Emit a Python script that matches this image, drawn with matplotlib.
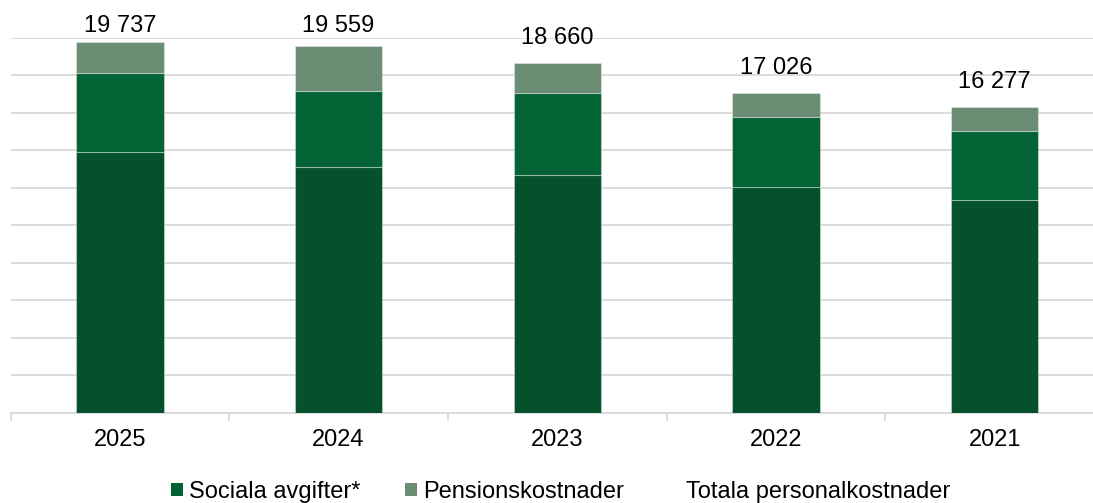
import matplotlib.pyplot as plt
from matplotlib.patches import Patch
from matplotlib.lines import Line2D
import numpy as np

plt.rcParams['font.family'] = ['Liberation Sans', 'DejaVu Sans']

# data
years = ['2025', '2024', '2023', '2022', '2021']
loner = [13877, 13093, 12651, 12027, 11316]
sociala = [4214, 4054, 4373, 3751, 3715]
pension = [1646, 2412, 1636, 1248, 1246]
totals = [19737, 19559, 18660, 17026, 16277]
total_labels = ['19 737', '19 559', '18 660', '17 026', '16 277']

c_dark = '#04512C'
c_mid = '#046335'
c_light = '#6A8D74'
edge = (1, 1, 1, 0.35)
grid_col = '#D9D9D9'
fs = 17

fig = plt.figure(figsize=(10.93, 5.03), dpi=100)
ax = fig.add_axes([10.5 / 1093, 90.5 / 503, 5 * 218.7 / 1093, 375 / 503])

x = np.arange(len(years))
w = 0.4
loner = np.array(loner)
sociala = np.array(sociala)
pension = np.array(pension)

ax.bar(x, loner, w, color=c_dark, edgecolor=edge, linewidth=0.8, zorder=3)
ax.bar(x, sociala, w, bottom=loner, color=c_mid, edgecolor=edge, linewidth=0.8, zorder=3)
ax.bar(x, pension, w, bottom=loner + sociala, color=c_light, edgecolor=edge, linewidth=0.8, zorder=3)

# total labels (pushed down near the top like the original)
for i in range(len(years)):
    ly = min(totals[i] + 1330, 20610)
    ax.text(x[i], ly, total_labels[i], ha='center', va='center', fontsize=fs,
            color='#000000', clip_on=False, zorder=5)

ax.set_ylim(0, 20000)
ax.set_xlim(-0.5, len(years) - 0.5)
ax.set_yticks(np.arange(0, 20001, 2000))
ax.yaxis.grid(True, color=grid_col, linewidth=1.3, zorder=0)
ax.tick_params(axis='y', left=False, labelleft=False)

ax.set_xticks(x)
ax.set_xticklabels(years, fontsize=fs)
ax.set_xticks(np.arange(-0.5, len(years), 1), minor=True)
ax.tick_params(axis='x', which='major', length=0, pad=12)
ax.tick_params(axis='x', which='minor', length=6, color=grid_col, width=1.3)

for s in ['top', 'right', 'left']:
    ax.spines[s].set_visible(False)
ax.spines['bottom'].set_color(grid_col)
ax.spines['bottom'].set_linewidth(1.3)

handles = [Patch(facecolor=c_mid, edgecolor='none'),
           Patch(facecolor=c_light, edgecolor='none'),
           Line2D([], [], color='none')]
labels = ['Sociala avgifter*', 'Pensionskostnader', 'Totala personalkostnader']
fig.legend(handles, labels, loc='center', bbox_to_anchor=(0.513, 0.022), ncol=3,
           frameon=False, fontsize=fs, handlelength=0.52, handleheight=0.52,
           handletextpad=0.27, columnspacing=1.85, borderaxespad=0)

fig.savefig('out.png', dpi=100)
